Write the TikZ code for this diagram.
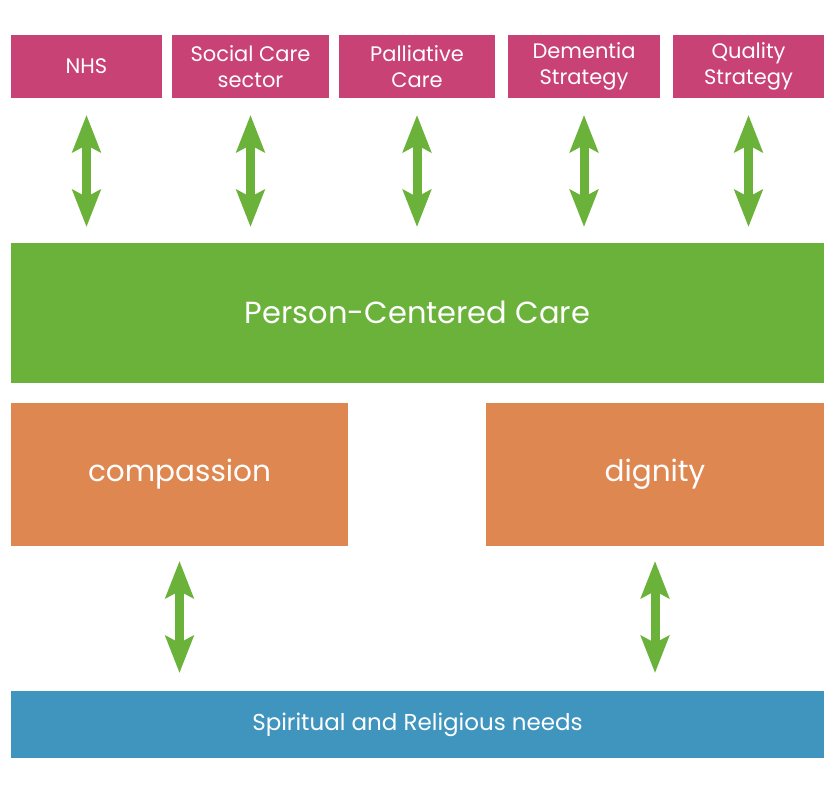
\documentclass[tikz,border=0pt]{standalone}
\usepackage{fontspec}
\setmainfont{Poppins}[Ligatures=NoCommon]
\usetikzlibrary{arrows.meta}
\definecolor{pinkc}{HTML}{C94276}
\definecolor{greenc}{HTML}{6AB23A}
\definecolor{orangec}{HTML}{DF8750}
\definecolor{bluec}{HTML}{4095BF}
\begin{document}
\begin{tikzpicture}[x=1pt,y=-1pt,
  box/.style={anchor=north west, inner sep=0pt, outer sep=0pt, text=white, align=center},
  topbox/.style={box, fill=pinkc, minimum height=63pt, font=\fontsize{21}{26}\selectfont},
  dbl/.style={draw=greenc, line width=9pt, {Stealth[width=28pt,length=37pt,inset=7pt]}-{Stealth[width=28pt,length=37pt,inset=7pt]}}
]
\useasboundingbox[fill=white] (0,0) rectangle (840,799);
\node[topbox, minimum width=151pt] (nhs) at (11,35) {NHS};
\node[topbox, minimum width=157pt] (soc) at (172,35) {Social Care\\sector};
\node[topbox, minimum width=156pt] (pal) at (339,35) {Palliative\\Care};
\node[topbox, minimum width=152pt] (dem) at (508,35) {Dementia\\Strategy};
\node[topbox, minimum width=151pt] (qua) at (673,35) {Quality\\Strategy};
\node[box, fill=greenc, minimum width=813pt, minimum height=140pt, font=\fontsize{30.5}{36}\selectfont] (pcc) at (11,243) {\raisebox{2pt}{Person-Centered Care}};
\node[box, fill=orangec, minimum width=337pt, minimum height=143pt, font=\fontsize{29.5}{35}\selectfont] (comp) at (11,403) {compassion};
\node[box, fill=orangec, minimum width=338pt, minimum height=143pt, font=\fontsize{29.5}{35}\selectfont] (dig) at (486,403) {dignity};
\node[box, fill=bluec, minimum width=813pt, minimum height=67pt, font=\fontsize{23}{28}\selectfont] (spir) at (11,691) {Spiritual and Religious needs};
\foreach \n in {nhs,soc,pal,dem,qua}{
  \draw[dbl, shorten <=17pt, shorten >=16pt] (\n.south) -- (\n.south |- pcc.north);
}
\draw[dbl, shorten <=15pt, shorten >=18pt] (comp.south) -- (comp.south |- spir.north);
\draw[dbl, shorten <=15pt, shorten >=18pt] (dig.south) -- (dig.south |- spir.north);
\end{tikzpicture}
\end{document}
